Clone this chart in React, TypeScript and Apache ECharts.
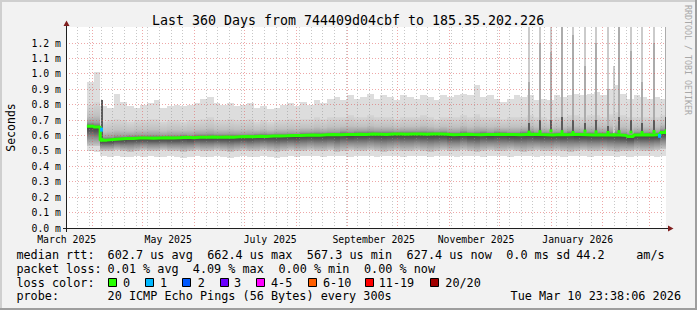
import React, { useEffect, useRef } from "react";
import * as echarts from "echarts";

// x axis: days since 2025-03-01 00:00 ; y axis: milliseconds (labelled "m")
const X_MIN = 14.985; // 2025-03-15 23:38
const X_MAX = 374.985; // 2026-03-10 23:38
const Y_MAX = 1.3038;

const xLabelDays = [15.4, 76.3, 137.5, 199.6, 261.0, 322.0];
const xLabelTexts = ["March 2025", "May 2025", "July 2025", "September 2025", "November 2025", "January 2026"];
const yLabelValues = [0, 0.1, 0.2, 0.3, 0.4, 0.5, 0.6, 0.7, 0.8, 0.9, 1.0, 1.1, 1.2];
const monthStartDays = [31, 61, 92, 122, 153, 184, 214, 245, 275, 306, 337, 365];
const weekStartDays = Array.from({ length: 51 }, (_, k) => 22 + 7 * k).filter((d) => monthStartDays.indexOf(d) < 0);

// 4-day bins starting at day 27.5
const DATA_START = 27.5;
const BIN_DAYS = 4;

const medianRtt = [
  0.660, 0.655, 0.570, 0.574, 0.578, 0.580, 0.581, 0.583, 0.584, 0.582,
  0.584, 0.586, 0.584, 0.586, 0.588, 0.586, 0.589, 0.588, 0.590, 0.589,
  0.590, 0.588, 0.592, 0.593, 0.592, 0.595, 0.594, 0.596, 0.597, 0.598,
  0.600, 0.600, 0.602, 0.603, 0.602, 0.605, 0.606, 0.605, 0.607, 0.606,
  0.608, 0.607, 0.609, 0.608, 0.607, 0.609, 0.610, 0.608, 0.610, 0.609,
  0.608, 0.610, 0.609, 0.608, 0.605, 0.606, 0.608, 0.606, 0.605, 0.607,
  0.606, 0.608, 0.607, 0.606, 0.605, 0.607, 0.608, 0.606, 0.605, 0.604,
  0.606, 0.605, 0.607, 0.606, 0.605, 0.604, 0.605, 0.604, 0.603, 0.604,
  0.600, 0.593, 0.604, 0.605, 0.603, 0.606, 0.620,
];
const pingMax = [
  0.95, 1.01, 0.79, 0.78, 0.87, 0.82, 0.79, 0.78, 0.80, 0.81,
  0.83, 0.78, 0.79, 0.80, 0.79, 0.80, 0.81, 0.84, 0.85, 0.81,
  0.80, 0.81, 0.79, 0.80, 0.81, 0.78, 0.79, 0.77, 0.78, 0.80,
  0.81, 0.79, 0.82, 0.80, 0.83, 0.81, 0.84, 0.85, 0.83, 0.86,
  0.84, 0.85, 0.87, 0.84, 0.86, 0.85, 0.83, 0.86, 0.85, 0.84,
  0.86, 0.85, 0.83, 0.86, 0.85, 0.86, 0.87, 0.86, 0.93, 0.85,
  0.86, 0.84, 0.82, 0.84, 0.86, 0.85, 0.86, 0.83, 0.84, 0.83,
  0.86, 0.85, 0.86, 0.87, 0.86, 0.87, 0.88, 0.86, 0.90, 0.93,
  0.87, 0.84, 0.86, 0.85, 0.84, 0.85, 0.84,
];
const pingHigh = [
  0.80, 0.82, 0.69, 0.70, 0.71, 0.70, 0.69, 0.70, 0.70, 0.71,
  0.71, 0.69, 0.70, 0.70, 0.69, 0.70, 0.70, 0.71, 0.72, 0.70,
  0.70, 0.71, 0.70, 0.70, 0.71, 0.69, 0.70, 0.69, 0.70, 0.70,
  0.71, 0.70, 0.71, 0.71, 0.72, 0.71, 0.72, 0.72, 0.72, 0.73,
  0.72, 0.72, 0.73, 0.72, 0.72, 0.72, 0.71, 0.72, 0.72, 0.72,
  0.73, 0.72, 0.71, 0.72, 0.72, 0.72, 0.73, 0.72, 0.74, 0.72,
  0.72, 0.72, 0.71, 0.72, 0.72, 0.72, 0.73, 0.72, 0.72, 0.71,
  0.72, 0.72, 0.73, 0.73, 0.72, 0.73, 0.73, 0.72, 0.74, 0.75,
  0.73, 0.72, 0.72, 0.72, 0.72, 0.72, 0.73,
];
const pingLow = [
  0.53, 0.53, 0.50, 0.50, 0.505, 0.50, 0.495, 0.50, 0.505, 0.50,
  0.50, 0.505, 0.50, 0.50, 0.495, 0.50, 0.505, 0.50, 0.50, 0.505,
  0.50, 0.495, 0.50, 0.505, 0.50, 0.50, 0.505, 0.50, 0.495, 0.50,
  0.505, 0.50, 0.50, 0.505, 0.50, 0.50, 0.505, 0.495, 0.50, 0.505,
  0.50, 0.50, 0.505, 0.50, 0.495, 0.50, 0.505, 0.50, 0.50, 0.505,
  0.50, 0.495, 0.50, 0.505, 0.50, 0.50, 0.505, 0.50, 0.495, 0.50,
  0.505, 0.50, 0.50, 0.505, 0.50, 0.495, 0.50, 0.505, 0.50, 0.50,
  0.505, 0.50, 0.495, 0.50, 0.505, 0.50, 0.50, 0.505, 0.50, 0.495,
  0.50, 0.50, 0.505, 0.50, 0.50, 0.505, 0.51,
];
const pingMin = [
  0.50, 0.49, 0.465, 0.46, 0.465, 0.46, 0.46, 0.465, 0.46, 0.465,
  0.46, 0.46, 0.465, 0.46, 0.455, 0.46, 0.465, 0.46, 0.46, 0.465,
  0.46, 0.455, 0.46, 0.465, 0.46, 0.46, 0.465, 0.46, 0.455, 0.46,
  0.465, 0.46, 0.465, 0.47, 0.465, 0.46, 0.465, 0.47, 0.465, 0.46,
  0.465, 0.47, 0.465, 0.46, 0.465, 0.47, 0.465, 0.46, 0.465, 0.47,
  0.465, 0.46, 0.465, 0.47, 0.465, 0.46, 0.465, 0.47, 0.465, 0.46,
  0.465, 0.47, 0.465, 0.46, 0.465, 0.47, 0.465, 0.46, 0.465, 0.47,
  0.465, 0.46, 0.465, 0.47, 0.465, 0.46, 0.465, 0.47, 0.465, 0.46,
  0.465, 0.46, 0.465, 0.47, 0.465, 0.46, 0.47,
];

// narrow outlier columns (high pings)
const spikeDays = [36.1, 292.2, 299.3, 305.5, 312.2, 319.0, 326.0, 332.8, 339.6, 343.3, 346.5, 353.4, 360.4, 367.6, 374.4];
const spikeTop = [0.83, 1.40, 1.40, 1.40, 1.40, 1.40, 1.40, 1.40, 1.40, 1.05, 1.40, 1.40, 1.40, 1.40, 1.40];
const spikeCore = [0.83, 0.95, 1.20, 1.14, 1.35, 1.25, 1.05, 1.20, 0.90, 0.00, 1.35, 1.15, 0.95, 1.20, 1.35];
const spikeDense = [0.83, 0.68, 0.70, 0.70, 0.72, 0.70, 0.68, 0.70, 0.66, 0.00, 0.72, 0.70, 0.68, 0.70, 0.72];
const spikeMedian = [0.575, 0.622, 0.625, 0.630, 0.625, 0.620, 0.628, 0.624, 0.620, 0.605, 0.625, 0.622, 0.620, 0.626, 0.630];

// median samples with packet loss
const lossDays = [36.0, 371.2];
const lossValues = [0.638, 0.598];
const lossCounts = [1, 1];

const lossLegendLabels = ["0", "1", "2", "3", "4-5", "6-10", "11-19", "20/20"];
const lossLegendColors = ["#26ff00", "#00b8ff", "#0059ff", "#6a00ff", "#ff00ff", "#ff5e00", "#ff0000", "#a10000"];
const lossColorFor = (n: number) => (n <= 0 ? lossLegendColors[0] : n <= 3 ? lossLegendColors[n] : n <= 5 ? lossLegendColors[4] : n <= 10 ? lossLegendColors[5] : n <= 19 ? lossLegendColors[6] : lossLegendColors[7]);

const FONT = "'DejaVu Sans Mono', monospace";

function buildOption() {
  const smokeData = medianRtt.map((m, i) => [
    DATA_START + i * BIN_DAYS,
    DATA_START + (i + 1) * BIN_DAYS,
    pingMin[i], pingLow[i], m, pingHigh[i], pingMax[i],
  ]);
  const medianData: number[][] = medianRtt.map((m, i) => [DATA_START + i * BIN_DAYS, m]);
  medianData.push([X_MAX, medianRtt[medianRtt.length - 1]]);
  const spikeData = spikeDays.map((d, i) => [d, spikeTop[i], spikeCore[i], spikeDense[i], spikeMedian[i]]);
  const lossData = lossDays.map((d, i) => [d, lossValues[i], lossCounts[i]]);

  const upperGrad = () =>
    new echarts.graphic.LinearGradient(0, 0, 0, 1, [
      { offset: 0, color: "#d6d6d6" },
      { offset: 0.55, color: "#c0c0c0" },
      { offset: 0.82, color: "#a0a0a0" },
      { offset: 1, color: "#6a6a6a" },
    ]);
  const lowerGrad = () =>
    new echarts.graphic.LinearGradient(0, 0, 0, 1, [
      { offset: 0, color: "#404040" },
      { offset: 0.25, color: "#5a5a5a" },
      { offset: 0.55, color: "#8c8c8c" },
      { offset: 1, color: "#c8c8c8" },
    ]);

  const vGrid = (color: string) => (params: any, api: any) => {
    const cs = params.coordSys;
    const px = Math.floor(api.coord([api.value(0), 0])[0]) + 0.5;
    return {
      type: "line",
      silent: true,
      shape: { x1: px, y1: cs.y, x2: px, y2: cs.y + cs.height },
      style: { stroke: color, lineWidth: 1, lineDash: [1, 2] },
    };
  };
  const hGrid = (color: string) => (params: any, api: any) => {
    const cs = params.coordSys;
    const py = Math.floor(api.coord([X_MIN, api.value(0)])[1]) + 0.5;
    return {
      type: "line",
      silent: true,
      shape: { x1: cs.x, y1: py, x2: cs.x + cs.width, y2: py },
      style: { stroke: color, lineWidth: 1, lineDash: [1, 2] },
    };
  };

  const txt = (text: string, x: number, y: number, size: number, extra: any = {}, rotation = 0) => ({
    type: "text",
    x,
    y,
    rotation,
    z: 100,
    silent: true,
    style: { text, fontFamily: FONT, fontSize: size, fill: "#000", align: "left", verticalAlign: "middle", ...extra },
  });

  const L1 = 254.5, L2 = 268.5, L3 = 282.5, L4 = 296.3;
  const LF = 11.8;
  const boxX = [108, 145.3, 182.2, 219.6, 256.4, 307.6, 365.3, 430.2];
  const boxLabelX = [123, 160, 197.8, 234, 271, 323, 378.7, 445.3];

  const graphic: any[] = [
    // frame shades
    { type: "rect", z: 100, silent: true, shape: { x: 0, y: 0, width: 697, height: 2 }, style: { fill: "#cfcfcf" } },
    { type: "rect", z: 100, silent: true, shape: { x: 0, y: 0, width: 2, height: 310 }, style: { fill: "#cfcfcf" } },
    { type: "rect", z: 100, silent: true, shape: { x: 0, y: 308, width: 697, height: 2 }, style: { fill: "#9e9e9e" } },
    { type: "rect", z: 100, silent: true, shape: { x: 695, y: 0, width: 2, height: 310 }, style: { fill: "#9e9e9e" } },
    // axes
    { type: "line", z: 100, silent: true, shape: { x1: 63, y1: 228.5, x2: 669, y2: 228.5 }, style: { stroke: "#1f1f1f", lineWidth: 1 } },
    { type: "line", z: 100, silent: true, shape: { x1: 66.5, y1: 232, x2: 66.5, y2: 25 }, style: { stroke: "#1f1f1f", lineWidth: 1 } },
    { type: "polygon", z: 101, silent: true, shape: { points: [[668, 225.5], [673.5, 228.5], [668, 231.5]] }, style: { fill: "#801f1f" } },
    { type: "polygon", z: 101, silent: true, shape: { points: [[63.5, 26], [66.5, 20.5], [69.5, 26]] }, style: { fill: "#801f1f" } },
    // titles
    txt("Last 360 Days from 744409d04cbf to 185.35.202.226", 348, 20, 13.3, { align: "center" }),
    txt("Seconds", 10.5, 127.5, 11.5, { align: "center" }, Math.PI / 2),
    txt("RRDTOOL / TOBI OETIKER", 687.5, 60, 8.3, { align: "center", fill: "#a8a8a8" }, -Math.PI / 2),
    // legend line 1
    txt("median rtt:", 16.4, L1, LF),
    txt("602.7 us avg", 107.6, L1, LF),
    txt("662.4 us max", 207.2, L1, LF),
    txt("567.3 us min", 306.8, L1, LF),
    txt("627.4 us now", 406.6, L1, LF),
    txt("0.0 ms sd", 506.2, L1, LF),
    txt("44.2", 576.2, L1, LF),
    txt("am/s", 636.2, L1, LF),
    // legend line 2
    txt("packet loss:", 16.4, L2, LF),
    txt("0.01 % avg", 107.6, L2, LF),
    txt("4.09 % max", 192.8, L2, LF),
    txt("0.00 % min", 278.4, L2, LF),
    txt("0.00 % now", 364.0, L2, LF),
    // legend line 3
    txt("loss color:", 16.4, L3, LF),
    // legend line 4
    txt("probe:", 16.4, L4, LF),
    txt("20 ICMP Echo Pings (56 Bytes) every 300s", 107.6, L4, LF),
    txt("Tue Mar 10 23:38:06 2026", 681, L4, LF, { align: "right" }),
  ];
  lossLegendLabels.forEach((label, i) => {
    graphic.push({
      type: "rect",
      z: 100,
      silent: true,
      shape: { x: Math.round(boxX[i]) + 0.5, y: 278.5, width: 8, height: 8 },
      style: { fill: lossLegendColors[i], stroke: "#000", lineWidth: 1 },
    });
    graphic.push(txt(label, boxLabelX[i], L3, LF));
  });

  return {
    animation: false,
    backgroundColor: "#f2f2f2",
    grid: { left: 66, top: 27, width: 600, height: 201, show: true, backgroundColor: "#ffffff", borderWidth: 0 },
    xAxis: {
      type: "value",
      min: X_MIN,
      max: X_MAX,
      axisLine: { show: false },
      axisTick: { show: false },
      splitLine: { show: false },
      axisLabel: {
        customValues: xLabelDays,
        formatter: (v: number) => {
          let best = 0;
          xLabelDays.forEach((d, i) => {
            if (Math.abs(d - v) < Math.abs(xLabelDays[best] - v)) best = i;
          });
          return xLabelTexts[best];
        },
        fontFamily: FONT,
        fontSize: 9.8,
        lineHeight: 9,
        color: "#000",
        margin: 7,
      },
    },
    yAxis: {
      type: "value",
      min: 0,
      max: Y_MAX,
      axisLine: { show: false },
      axisTick: { show: false },
      splitLine: { show: false },
      axisLabel: {
        customValues: yLabelValues,
        formatter: (v: number) => v.toFixed(1) + " m",
        fontFamily: FONT,
        fontSize: 9.8,
        lineHeight: 9,
        color: "#000",
        margin: 5,
      },
    },
    graphic,
    series: [
      {
        type: "custom",
        name: "smoke",
        z: 1,
        clip: true,
        silent: true,
        data: smokeData,
        renderItem: (params: any, api: any) => {
          const x0 = Math.round(api.coord([api.value(0), 0])[0]);
          const x1 = Math.round(api.coord([api.value(1), 0])[0]);
          const y = (v: number) => Math.round(api.coord([api.value(0), v])[1]);
          const w = x1 - x0;
          const yMin = y(api.value(2)), yLo = y(api.value(3)), yMed = y(api.value(4)), yHi = y(api.value(5)), yMax = y(api.value(6));
          return {
            type: "group",
            children: [
              { type: "rect", shape: { x: x0, y: yMax, width: w, height: yMin - yMax }, style: { fill: "#dddddd" } },
              { type: "rect", shape: { x: x0, y: yHi, width: w, height: yMed - yHi }, style: { fill: upperGrad() } },
              { type: "rect", shape: { x: x0, y: yMed, width: w, height: yLo - yMed }, style: { fill: lowerGrad() } },
            ],
          };
        },
      },
      {
        type: "custom",
        name: "spikes",
        z: 2,
        clip: true,
        silent: true,
        data: spikeData,
        renderItem: (params: any, api: any) => {
          const d = api.value(0);
          const x0 = Math.floor(api.coord([d, 0])[0]);
          const y = (v: number) => Math.round(api.coord([d, v])[1]);
          const base = api.value(4);
          const yBase = y(base);
          const children: any[] = [];
          const layers: [number, string][] = [
            [api.value(1), "#cbcbcb"],
            [api.value(2), "#acacac"],
            [api.value(3), "#5a5a5a"],
          ];
          layers.forEach(([v, c]) => {
            if (v > base) {
              const yt = y(v);
              children.push({ type: "rect", shape: { x: x0, y: yt, width: 2, height: yBase - yt }, style: { fill: c } });
            }
          });
          return { type: "group", children };
        },
      },
      {
        type: "custom",
        name: "minorGrid",
        z: 3,
        silent: true,
        data: weekStartDays.map((d) => [d]),
        renderItem: vGrid("rgba(143,143,143,0.5)"),
      },
      {
        type: "custom",
        name: "majorGridX",
        z: 3,
        silent: true,
        data: monthStartDays.map((d) => [d]),
        renderItem: vGrid("rgba(222,79,79,0.5)"),
      },
      {
        type: "custom",
        name: "majorGridY",
        z: 3,
        silent: true,
        data: yLabelValues.slice(1).map((v) => [v]),
        renderItem: hGrid("rgba(222,79,79,0.5)"),
      },
      {
        type: "line",
        name: "median",
        z: 4,
        silent: true,
        step: "end",
        symbol: "none",
        showSymbol: false,
        data: medianData,
        lineStyle: { color: lossLegendColors[0], width: 3 },
      },
      {
        type: "custom",
        name: "medianBumps",
        z: 4,
        clip: true,
        silent: true,
        data: spikeData,
        renderItem: (params: any, api: any) => {
          const p = api.coord([api.value(0), api.value(4)]);
          return {
            type: "rect",
            shape: { x: Math.floor(p[0]) - 0.5, y: p[1] - 1.5, width: 3, height: 3 },
            style: { fill: lossLegendColors[0] },
          };
        },
      },
      {
        type: "custom",
        name: "loss",
        z: 5,
        clip: true,
        silent: true,
        data: lossData,
        renderItem: (params: any, api: any) => {
          const p = api.coord([api.value(0), api.value(1)]);
          return {
            type: "rect",
            shape: { x: Math.floor(p[0]) - 1, y: p[1] - 2, width: 3, height: 4 },
            style: { fill: lossColorFor(api.value(2)) },
          };
        },
      },
    ],
  };
}

export default function App() {
  const ref = useRef<HTMLDivElement>(null);
  useEffect(() => {
    const chart = echarts.init(ref.current!, null, { renderer: "svg", width: 697, height: 310 });
    chart.setOption(buildOption() as any);
    return () => chart.dispose();
  }, []);
  return <div ref={ref} style={{ position: "absolute", left: 0, top: 0, width: 697, height: 310 }} />;
}
